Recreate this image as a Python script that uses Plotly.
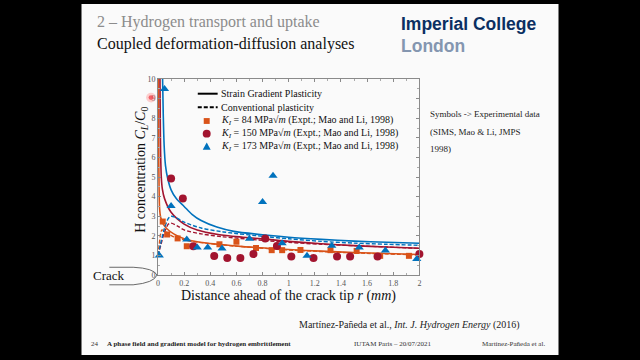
import plotly.graph_objects as go

# ---------------- data ----------------
# Strain gradient plasticity (solid) curves
sgp84_r = [0.003, 0.005, 0.008, 0.012, 0.02, 0.04, 0.07, 0.12, 0.2, 0.3, 0.46, 0.65, 0.84, 1.0, 1.25, 1.5, 1.75, 2.0]
sgp84_c = [10.0, 6.5, 4.5, 3.4, 2.95, 2.6, 2.35, 2.1, 1.85, 1.7, 1.57, 1.45, 1.37, 1.3, 1.22, 1.15, 1.1, 1.05]
sgp150_r = [0.015, 0.017, 0.02, 0.025, 0.033, 0.05, 0.1, 0.2, 0.3, 0.46, 0.65, 0.84, 1.0, 1.25, 1.5, 1.75, 2.0]
sgp150_c = [10.0, 8.0, 6.2, 5.0, 4.4, 3.9, 3.2, 2.6, 2.3, 2.07, 1.93, 1.82, 1.72, 1.6, 1.5, 1.43, 1.37]
sgp173_r = [0.035, 0.04, 0.047, 0.057, 0.075, 0.1, 0.14, 0.2, 0.26, 0.33, 0.45, 0.58, 0.84, 1.0, 1.25, 1.5, 1.75, 2.0]
sgp173_c = [10.0, 8.2, 6.6, 5.6, 4.9, 4.35, 3.9, 3.5, 3.1, 2.78, 2.45, 2.23, 2.03, 1.93, 1.82, 1.73, 1.67, 1.62]

# Conventional plasticity (dashed) curves
cp84_r = [0.0, 0.01, 0.02, 0.03, 0.05, 0.08, 0.12, 0.2, 0.3, 0.5, 0.84, 1.0, 1.5, 2.0]
cp84_c = [1.0, 1.6, 2.1, 2.3, 2.25, 2.1, 1.95, 1.8, 1.68, 1.53, 1.35, 1.28, 1.13, 1.03]
cp150_r = [0.0, 0.02, 0.05, 0.08, 0.1, 0.15, 0.2, 0.33, 0.5, 0.84, 1.0, 1.25, 1.5, 1.75, 2.0]
cp150_c = [1.0, 1.5, 2.2, 2.6, 2.65, 2.5, 2.3, 2.1, 1.95, 1.75, 1.67, 1.57, 1.5, 1.43, 1.36]
cp173_r = [0.0, 0.02, 0.05, 0.08, 0.1, 0.13, 0.2, 0.33, 0.5, 0.84, 1.0, 1.25, 1.5, 1.75, 2.0]
cp173_c = [1.0, 1.6, 2.4, 2.9, 3.0, 2.95, 2.7, 2.4, 2.2, 1.95, 1.85, 1.72, 1.63, 1.57, 1.52]

# Experimental data (Mao and Li, 1998)
exp84_r = [0.036, 0.07, 0.15, 0.22, 0.47, 0.60, 0.75, 0.87, 0.95, 1.09, 1.32, 1.52, 1.70, 1.92]
exp84_c = [2.73, 2.07, 1.87, 1.47, 1.57, 1.70, 1.38, 1.27, 1.27, 1.28, 1.27, 1.23, 0.98, 0.98]
exp150_r = [0.10, 0.19, 0.27, 0.43, 0.53, 0.63, 0.73, 0.82, 0.91, 1.02, 1.19, 1.37, 1.47, 1.68, 2.0]
exp150_c = [4.93, 3.9, 1.47, 0.97, 0.87, 0.87, 1.07, 1.87, 1.48, 0.95, 0.87, 0.95, 0.95, 0.95, 1.07]
exp173_r = [0.01, 0.05, 0.10, 0.22, 0.30, 0.38, 0.49, 0.70, 0.80, 0.88, 0.95, 1.14, 1.33, 1.54, 1.74, 1.98]
exp173_c = [1.0, 9.5, 3.53, 1.82, 1.4, 1.4, 1.35, 1.85, 3.73, 5.07, 1.62, 0.98, 1.5, 1.4, 1.25, 0.82]

x_ticks = [0, 0.2, 0.4, 0.6, 0.8, 1, 1.2, 1.4, 1.6, 1.8, 2]
x_tick_labels = ["0", "0.2", "0.4", "0.6", "0.8", "1", "1.2", "1.4", "1.6", "1.8", "2"]
y_ticks = [0, 1, 2, 3, 4, 5, 6, 7, 8, 9, 10]
y_tick_labels = [str(v) for v in y_ticks]

legend_labels = [
    "Strain Gradient Plasticity",
    "Conventional plasticity",
    "<i>K<sub>I</sub></i> = 84 MPa√<i>m</i> (Expt.; Mao and Li, 1998)",
    "<i>K<sub>I</sub></i> = 150 MPa√<i>m</i> (Expt.; Mao and Li, 1998)",
    "<i>K<sub>I</sub></i> = 173 MPa√<i>m</i> (Expt.; Mao and Li, 1998)",
]

# ---------------- styles ----------------
ORANGE = "#D95319"
RED = "#A2142F"
BLUE = "#0072BD"
SERIF = "Liberation Serif"
W, H = 640, 360


def px(x):
    return x / W


def py(y):
    return 1 - y / H


fig = go.Figure()

for r, c, col in [(sgp84_r, sgp84_c, ORANGE), (sgp150_r, sgp150_c, RED), (sgp173_r, sgp173_c, BLUE)]:
    fig.add_trace(go.Scatter(x=r, y=c, mode="lines", line=dict(color=col, width=1.6, shape="spline", smoothing=0.8),
                             showlegend=False, hoverinfo="skip"))
for r, c, col in [(cp84_r, cp84_c, ORANGE), (cp150_r, cp150_c, RED), (cp173_r, cp173_c, BLUE)]:
    fig.add_trace(go.Scatter(x=r, y=c, mode="lines", line=dict(color=col, width=1.4, dash="4px,2px", shape="spline", smoothing=0.8),
                             showlegend=False, hoverinfo="skip"))

fig.add_trace(go.Scatter(x=exp84_r, y=exp84_c, mode="markers", cliponaxis=False,
                         marker=dict(symbol="square", size=6, color=ORANGE), showlegend=False))
fig.add_trace(go.Scatter(x=exp150_r, y=exp150_c, mode="markers", cliponaxis=False,
                         marker=dict(symbol="circle", size=8, color=RED), showlegend=False))
fig.add_trace(go.Scatter(x=exp173_r, y=exp173_c, mode="markers", cliponaxis=False,
                         marker=dict(symbol="triangle-up", size=8, color=BLUE), showlegend=False))

axis_common = dict(showline=True, linecolor="#8a8a8a", linewidth=1, mirror="allticks",
                   ticks="inside", ticklen=3, tickcolor="#8a8a8a", showgrid=False, zeroline=False,
                   tickfont=dict(family=SERIF, size=8, color="#555"),
                   minor=dict(ticks="inside", ticklen=2, tickcolor="#aaaaaa"))

fig.update_xaxes(range=[0, 2], domain=[px(157), px(420)], tickvals=x_ticks, ticktext=x_tick_labels,
                 minor_dtick=0.1, **axis_common)
fig.update_yaxes(range=[0, 10], domain=[py(278), py(77)], tickvals=y_ticks, ticktext=y_tick_labels,
                 minor_dtick=0.5, **axis_common)

shapes = []
annotations = []

# slide background
shapes.append(dict(type="rect", xref="paper", yref="paper", x0=px(80), x1=px(560), y0=0, y1=1,
                   fillcolor="#fafafa", line=dict(width=0), layer="below"))

# legend glyphs
lg_y = [92, 106, 120, 133, 146]
shapes.append(dict(type="line", xref="paper", yref="paper", x0=px(197), x1=px(217), y0=py(lg_y[0]), y1=py(lg_y[0]),
                   line=dict(color="black", width=2)))
shapes.append(dict(type="line", xref="paper", yref="paper", x0=px(197), x1=px(217), y0=py(lg_y[1]), y1=py(lg_y[1]),
                   line=dict(color="black", width=2, dash="4px,2px")))
shapes.append(dict(type="rect", xref="paper", yref="paper", x0=px(203), x1=px(209), y0=py(lg_y[2] + 3), y1=py(lg_y[2] - 3),
                   fillcolor=ORANGE, line=dict(width=0)))
shapes.append(dict(type="circle", xref="paper", yref="paper", x0=px(202), x1=px(210), y0=py(lg_y[3] + 4), y1=py(lg_y[3] - 4),
                   fillcolor=RED, line=dict(width=0)))
shapes.append(dict(type="path", xref="paper", yref="paper",
                   path=f"M {px(202)},{py(lg_y[4] + 3.5)} L {px(210)},{py(lg_y[4] + 3.5)} L {px(206)},{py(lg_y[4] - 4)} Z",
                   fillcolor=BLUE, line=dict(width=0)))
for i, lab in enumerate(legend_labels):
    annotations.append(dict(xref="paper", yref="paper", x=px(218), y=py(lg_y[i]), text=lab, showarrow=False,
                            xanchor="left", yanchor="middle", font=dict(family=SERIF, size=10, color="#111")))

# crack sketch
shapes.append(dict(type="path", xref="paper", yref="paper",
                   path=(f"M {px(108)},{py(270)} L {px(132)},{py(270)} "
                         f"Q {px(153)},{py(271)} {px(156)},{py(278)} "
                         f"Q {px(153)},{py(286)} {px(132)},{py(288)} L {px(108)},{py(288)}"),
                   line=dict(color="#444", width=0.8)))
annotations.append(dict(xref="paper", yref="paper", x=px(90), y=py(278), text="Crack", showarrow=False,
                        xanchor="left", yanchor="middle", font=dict(family=SERIF, size=13, color="#111")))

# laser pointer dot
shapes.append(dict(type="circle", xref="paper", yref="paper", x0=px(145), x1=px(155), y0=py(101), y1=py(91),
                   fillcolor="rgba(255,120,120,0.35)", line=dict(width=0)))
shapes.append(dict(type="circle", xref="paper", yref="paper", x0=px(147.5), x1=px(152.5), y0=py(98.5), y1=py(93.5),
                   fillcolor="rgba(240,70,80,0.8)", line=dict(width=0)))

# axis titles
annotations.append(dict(xref="paper", yref="paper", x=px(288), y=py(299),
                        text="Distance ahead of the crack tip <i>r</i> (<i>mm</i>)", showarrow=False,
                        xanchor="center", yanchor="middle", font=dict(family=SERIF, size=14, color="#111")))
annotations.append(dict(xref="paper", yref="paper", x=px(141), y=py(170),
                        text="H concentration <i>C<sub>L</sub></i>/<i>C</i><sub>0</sub>", showarrow=False, textangle=-90,
                        xanchor="center", yanchor="middle", font=dict(family=SERIF, size=14, color="#111")))

# slide texts
annotations.append(dict(xref="paper", yref="paper", x=px(94), y=py(18), text="2 – Hydrogen transport and uptake",
                        showarrow=False, xanchor="left", yanchor="middle", font=dict(family=SERIF, size=16, color="#8c8c8c")))
annotations.append(dict(xref="paper", yref="paper", x=px(94), y=py(41), text="Coupled deformation-diffusion analyses",
                        showarrow=False, xanchor="left", yanchor="middle", font=dict(family=SERIF, size=16, color="#111")))
annotations.append(dict(xref="paper", yref="paper", x=px(399), y=py(20), text="<b>Imperial College</b>",
                        showarrow=False, xanchor="left", yanchor="middle", font=dict(family="Liberation Sans", size=17.5, color="#0b2f62")))
annotations.append(dict(xref="paper", yref="paper", x=px(399), y=py(43), text="<b>London</b>",
                        showarrow=False, xanchor="left", yanchor="middle", font=dict(family="Liberation Sans", size=17.5, color="#8496b0")))

for txt, yy in [("Symbols -> Experimental data", 113), ("(SIMS, Mao &amp; Li, JMPS", 131), ("1998)", 149)]:
    annotations.append(dict(xref="paper", yref="paper", x=px(429), y=py(yy), text=txt, showarrow=False,
                            xanchor="left", yanchor="middle", font=dict(family=SERIF, size=9, color="#222")))

annotations.append(dict(xref="paper", yref="paper", x=px(523), y=py(329),
                        text="Martínez-Pañeda et al., <i>Int. J. Hydrogen Energy</i> (2016)", showarrow=False,
                        xanchor="right", yanchor="middle", font=dict(family=SERIF, size=10, color="#222")))
annotations.append(dict(xref="paper", yref="paper", x=px(88), y=py(349), text="24", showarrow=False,
                        xanchor="left", yanchor="middle", font=dict(family=SERIF, size=7, color="#333")))
annotations.append(dict(xref="paper", yref="paper", x=px(104), y=py(349),
                        text="<b>A phase field and gradient model for hydrogen embrittlement</b>", showarrow=False,
                        xanchor="left", yanchor="middle", font=dict(family=SERIF, size=7, color="#222")))
annotations.append(dict(xref="paper", yref="paper", x=px(352), y=py(349), text="IUTAM Paris – 20/07/2021",
                        showarrow=False, xanchor="left", yanchor="middle", font=dict(family=SERIF, size=7, color="#333")))
annotations.append(dict(xref="paper", yref="paper", x=px(548), y=py(349), text="Martínez-Pañeda et al.",
                        showarrow=False, xanchor="right", yanchor="middle", font=dict(family=SERIF, size=7, color="#333")))

fig.update_layout(width=W, height=H, autosize=False, margin=dict(l=0, r=0, t=0, b=0),
                  paper_bgcolor="black", plot_bgcolor="white", shapes=shapes, annotations=annotations,
                  showlegend=False)

fig.write_html("out.html", config={"displayModeBar": False},
               post_script="document.body.style.margin='0';document.body.style.overflow='hidden';")
